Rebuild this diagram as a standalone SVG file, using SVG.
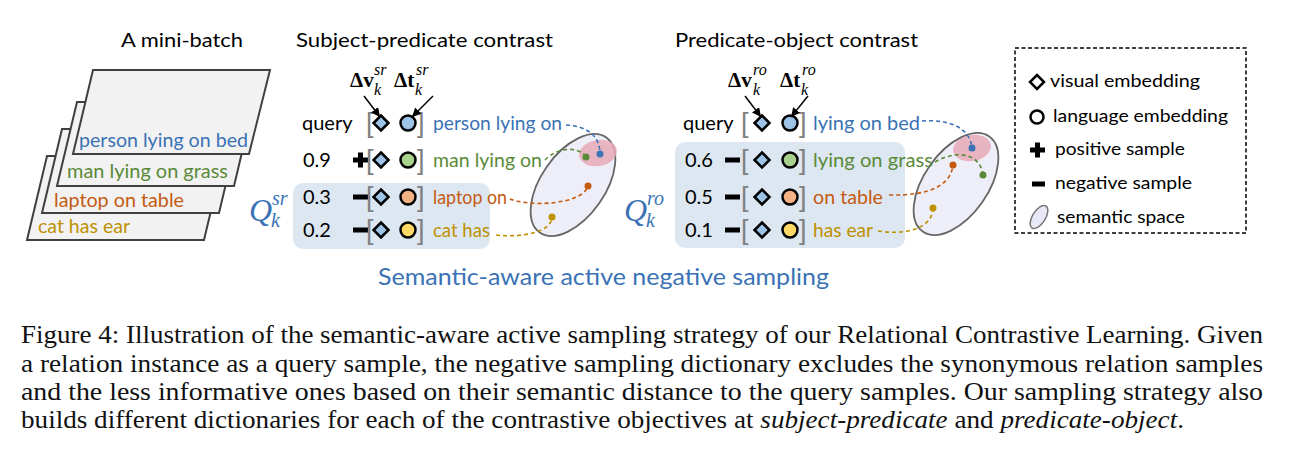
<svg xmlns="http://www.w3.org/2000/svg" width="1298" height="461" viewBox="0 0 1298 461">
<defs>
<style>
.t{font-family:Lato,"Noto Sans",sans-serif;font-size:20px;fill:#000;}
.blue{fill:#3A72B5;}
.green{fill:#5A8A38;}
.orange{fill:#C55A11;}
.gold{fill:#BF9000;}
.card{fill:#F2F2F2;stroke:#404040;stroke-width:2;}
.mb{font-family:"Liberation Serif","DejaVu Serif",serif;font-weight:bold;font-size:21px;}
.mi{font-family:"Liberation Serif","DejaVu Serif",serif;font-style:italic;font-size:16px;}
.q{font-family:"Liberation Serif","DejaVu Serif",serif;font-style:italic;font-size:32px;fill:#3A72B5;}
.qs{font-family:"Liberation Serif","DejaVu Serif",serif;font-style:italic;font-size:20px;fill:#3A72B5;}
.br{font-family:"Liberation Sans",sans-serif;font-size:27px;fill:#808080;}
.dia{stroke:#000;stroke-width:2.5;fill:#9DC3E6;}
.cir{stroke:#000;stroke-width:2.5;}
.box{fill:#DDE7F2;}
.space{fill:#EEEEF8;stroke:#666;stroke-width:1.8;}
.pink{fill:#E6A9B9;opacity:0.85;}
.dash{fill:none;stroke-width:1.6;stroke-dasharray:4 3;}
.lg{font-family:Lato,"Noto Sans",sans-serif;font-size:18px;fill:#000;}
.cap{font-family:"Liberation Serif","Times New Roman",serif;font-size:25px;fill:#111;}
</style>
<marker id="ah" viewBox="0 0 10 10" refX="10" refY="5" markerWidth="9" markerHeight="9" markerUnits="userSpaceOnUse" orient="auto">
<path d="M0,0 L10,5 L0,10 z" fill="#000"/>
</marker>
</defs>
<rect width="1298" height="461" fill="#fff"/>

<g id="minibatch">
<text class="t" x="121" y="47" textLength="122" lengthAdjust="spacingAndGlyphs">A mini-batch</text>
<polygon class="card" points="47,156 224,156 204,240 27,240"/>
<text class="t gold" x="38" y="233" style="font-size:19px" textLength="92" lengthAdjust="spacingAndGlyphs">cat has ear</text>
<polygon class="card" points="62,129 239,129 219,213 42,213"/>
<text class="t orange" x="54" y="207" style="font-size:19px" textLength="130" lengthAdjust="spacingAndGlyphs">laptop on table</text>
<polygon class="card" points="77,102 254,102 234,186 57,186"/>
<text class="t green" x="67" y="178" style="font-size:19px" textLength="161" lengthAdjust="spacingAndGlyphs">man lying on grass</text>
<polygon class="card" points="93,70 270,70 249,154 73,154"/>
<text class="t blue" x="79" y="147" style="font-size:19px" textLength="169" lengthAdjust="spacingAndGlyphs">person lying on bed</text>
</g>

<g id="sr-contrast">
<text class="t" x="296" y="47" textLength="257" lengthAdjust="spacingAndGlyphs">Subject-predicate contrast</text>
<rect class="box" x="293" y="183" width="197" height="66" rx="10"/>
<text class="mb" x="350" y="87">Δv</text>
<text class="mi" x="374" y="75">sr</text>
<text class="mi" x="374" y="95">k</text>
<text class="mb" x="394" y="87">Δt</text>
<text class="mi" x="416" y="75">sr</text>
<text class="mi" x="415" y="95">k</text>
<text class="q" x="249" y="221">Q</text>
<text class="qs" x="272" y="205">sr</text>
<text class="qs" x="271" y="227">k</text>
<ellipse class="space" cx="573" cy="185" rx="58" ry="32" transform="rotate(-55 573 185)"/>
<ellipse class="pink" cx="598" cy="153" rx="19" ry="13" transform="rotate(-10 598 153)"/>
<text class="t" x="302" y="130">query</text>
<text class="t" x="303" y="167">0.9</text>
<text class="t" x="303" y="204">0.3</text>
<text class="t" x="303" y="237">0.2</text>
<path d="M353,157.5h5v-5h5v5h5v5h-5v5h-5v-5h-5z" fill="#000"/>
<rect x="353" y="194.5" width="15" height="5" fill="#000"/>
<rect x="353" y="227.5" width="15" height="5" fill="#000"/>
<text class="br" x="366" y="132">[</text><text class="br" x="417" y="132">]</text>
<text class="br" x="366" y="169">[</text><text class="br" x="417" y="169">]</text>
<text class="br" x="366" y="206">[</text><text class="br" x="417" y="206">]</text>
<text class="br" x="366" y="239">[</text><text class="br" x="417" y="239">]</text>
<path class="dia" d="M381,115.5l7.5,7.5l-7.5,7.5l-7.5,-7.5z"/>
<path class="dia" d="M381,152.5l7.5,7.5l-7.5,7.5l-7.5,-7.5z"/>
<path class="dia" d="M381,189.5l7.5,7.5l-7.5,7.5l-7.5,-7.5z"/>
<path class="dia" d="M381,222.5l7.5,7.5l-7.5,7.5l-7.5,-7.5z"/>
<circle class="cir" cx="408" cy="123" r="7.5" fill="#9DC3E6"/>
<circle class="cir" cx="408" cy="160" r="7.5" fill="#A9D18E"/>
<circle class="cir" cx="408" cy="197" r="7.5" fill="#F4B183"/>
<circle class="cir" cx="408" cy="230" r="7.5" fill="#FFD966"/>
<text class="t blue" x="433" y="130" textLength="129" lengthAdjust="spacingAndGlyphs">person lying on</text>
<text class="t green" x="433" y="167" textLength="109" lengthAdjust="spacingAndGlyphs">man lying on</text>
<text class="t orange" x="433" y="204" textLength="74" lengthAdjust="spacingAndGlyphs">laptop on</text>
<text class="t gold" x="433" y="237" textLength="57" lengthAdjust="spacingAndGlyphs">cat has</text>
<circle cx="600" cy="154" r="3.5" fill="#3A72B5"/>
<circle cx="586" cy="157" r="3.5" fill="#5A8A38"/>
<circle cx="588" cy="186" r="3.5" fill="#C55A11"/>
<circle cx="552" cy="217" r="3.5" fill="#BF9000"/>
</g>

<g id="ro-contrast">
<text class="t" x="675" y="47" textLength="243" lengthAdjust="spacingAndGlyphs">Predicate-object contrast</text>
<rect class="box" x="675" y="142" width="230" height="106" rx="10"/>
<text class="mb" x="728" y="87">Δv</text>
<text class="mi" x="753" y="75">ro</text>
<text class="mi" x="753" y="95">k</text>
<text class="mb" x="780" y="87">Δt</text>
<text class="mi" x="802" y="75">ro</text>
<text class="mi" x="801" y="95">k</text>
<text class="q" x="624" y="221">Q</text>
<text class="qs" x="647" y="205">ro</text>
<text class="qs" x="646" y="227">k</text>
<ellipse class="space" cx="956" cy="184" rx="58" ry="32" transform="rotate(-55 956 184)"/>
<ellipse class="pink" cx="972" cy="148" rx="19" ry="13" transform="rotate(-10 972 148)"/>
<text class="t" x="683" y="130">query</text>
<text class="t" x="685" y="167">0.6</text>
<text class="t" x="685" y="204">0.5</text>
<text class="t" x="685" y="237">0.1</text>
<rect x="725" y="157.5" width="15" height="5" fill="#000"/>
<rect x="725" y="194.5" width="15" height="5" fill="#000"/>
<rect x="725" y="227.5" width="15" height="5" fill="#000"/>
<text class="br" x="741" y="132">[</text><text class="br" x="799" y="132">]</text>
<text class="br" x="741" y="169">[</text><text class="br" x="799" y="169">]</text>
<text class="br" x="741" y="206">[</text><text class="br" x="799" y="206">]</text>
<text class="br" x="741" y="239">[</text><text class="br" x="799" y="239">]</text>
<path class="dia" d="M762,115.5l7.5,7.5l-7.5,7.5l-7.5,-7.5z"/>
<path class="dia" d="M762,152.5l7.5,7.5l-7.5,7.5l-7.5,-7.5z"/>
<path class="dia" d="M762,189.5l7.5,7.5l-7.5,7.5l-7.5,-7.5z"/>
<path class="dia" d="M762,222.5l7.5,7.5l-7.5,7.5l-7.5,-7.5z"/>
<circle class="cir" cx="790" cy="123" r="7.5" fill="#9DC3E6"/>
<circle class="cir" cx="790" cy="160" r="7.5" fill="#A9D18E"/>
<circle class="cir" cx="790" cy="197" r="7.5" fill="#F4B183"/>
<circle class="cir" cx="790" cy="230" r="7.5" fill="#FFD966"/>
<text class="t blue" x="813" y="130" textLength="107" lengthAdjust="spacingAndGlyphs">lying on bed</text>
<text class="t green" x="813" y="167" textLength="120" lengthAdjust="spacingAndGlyphs">lying on grass</text>
<text class="t orange" x="813" y="204" textLength="70" lengthAdjust="spacingAndGlyphs">on table</text>
<text class="t gold" x="813" y="237" textLength="60" lengthAdjust="spacingAndGlyphs">has ear</text>
<circle cx="972" cy="148" r="3.5" fill="#3A72B5"/>
<circle cx="983" cy="175" r="3.5" fill="#5A8A38"/>
<circle cx="953" cy="165" r="3.5" fill="#C55A11"/>
<circle cx="933" cy="208" r="3.5" fill="#BF9000"/>
</g>

<g id="connectors">
<line x1="364" y1="96" x2="380" y2="117" stroke="#000" stroke-width="1.5" marker-end="url(#ah)"/>
<line x1="433" y1="96" x2="412" y2="117" stroke="#000" stroke-width="1.5" marker-end="url(#ah)"/>
<line x1="745" y1="96" x2="761" y2="117" stroke="#000" stroke-width="1.5" marker-end="url(#ah)"/>
<line x1="808" y1="96" x2="791" y2="117" stroke="#000" stroke-width="1.5" marker-end="url(#ah)"/>
<path class="dash" stroke="#3A72B5" d="M566,125 C586,126 600,135 600,154"/>
<path class="dash" stroke="#5A8A38" d="M545,160 C556,148 578,145 586,157"/>
<path class="dash" stroke="#C55A11" d="M510,199 C530,207 582,205 588,186"/>
<path class="dash" stroke="#BF9000" d="M496,235 C522,238 552,232 552,217"/>
<path class="dash" stroke="#3A72B5" d="M922,121 C950,119 970,128 972,148"/>
<path class="dash" stroke="#5A8A38" d="M935,162 C955,150 980,152 983,175"/>
<path class="dash" stroke="#C55A11" d="M889,195 C930,196 951,185 953,165"/>
<path class="dash" stroke="#BF9000" d="M878,231 C910,236 933,226 933,208"/>
</g>

<g id="title-bottom">
<text class="t blue" x="378" y="285" style="font-size:24px" textLength="451" lengthAdjust="spacingAndGlyphs">Semantic-aware active negative sampling</text>
</g>

<g id="legend">
<rect x="1015" y="48" width="231" height="185" fill="none" stroke="#000" stroke-width="1.5" stroke-dasharray="4 2.5"/>
<path d="M1037,75l7,7l-7,7l-7,-7z" fill="#fff" stroke="#000" stroke-width="2.5"/>
<text class="lg" x="1050" y="87" textLength="150" lengthAdjust="spacingAndGlyphs">visual embedding</text>
<circle cx="1037" cy="117" r="6.5" fill="#fff" stroke="#000" stroke-width="2.5"/>
<text class="lg" x="1053" y="122" textLength="175" lengthAdjust="spacingAndGlyphs">language embedding</text>
<path d="M1030,147.5h5v-5h5v5h5v5h-5v5h-5v-5h-5z" fill="#000"/>
<text class="lg" x="1055" y="155" textLength="130" lengthAdjust="spacingAndGlyphs">positive sample</text>
<rect x="1032" y="181.5" width="13" height="5" fill="#000"/>
<text class="lg" x="1055" y="189" textLength="137" lengthAdjust="spacingAndGlyphs">negative sample</text>
<ellipse cx="1039" cy="217" rx="13" ry="6.5" transform="rotate(-58 1039 217)" fill="#E8E8F6" stroke="#777" stroke-width="1.5"/>
<text class="lg" x="1057" y="223" textLength="128" lengthAdjust="spacingAndGlyphs">semantic space</text>
</g>

<g id="caption">
<text class="cap" x="21" y="343" textLength="1242" lengthAdjust="spacingAndGlyphs">Figure 4: Illustration of the semantic-aware active sampling strategy of our Relational Contrastive Learning. Given</text>
<text class="cap" x="21" y="372" textLength="1242" lengthAdjust="spacingAndGlyphs">a relation instance as a query sample, the negative sampling dictionary excludes the synonymous relation samples</text>
<text class="cap" x="21" y="400" textLength="1242" lengthAdjust="spacingAndGlyphs">and the less informative ones based on their semantic distance to the query samples. Our sampling strategy also</text>
<text class="cap" x="21" y="428" textLength="1163" lengthAdjust="spacingAndGlyphs">builds different dictionaries for each of the contrastive objectives at <tspan font-style="italic">subject-predicate</tspan> and <tspan font-style="italic">predicate-object</tspan>.</text>
</g>
</svg>
